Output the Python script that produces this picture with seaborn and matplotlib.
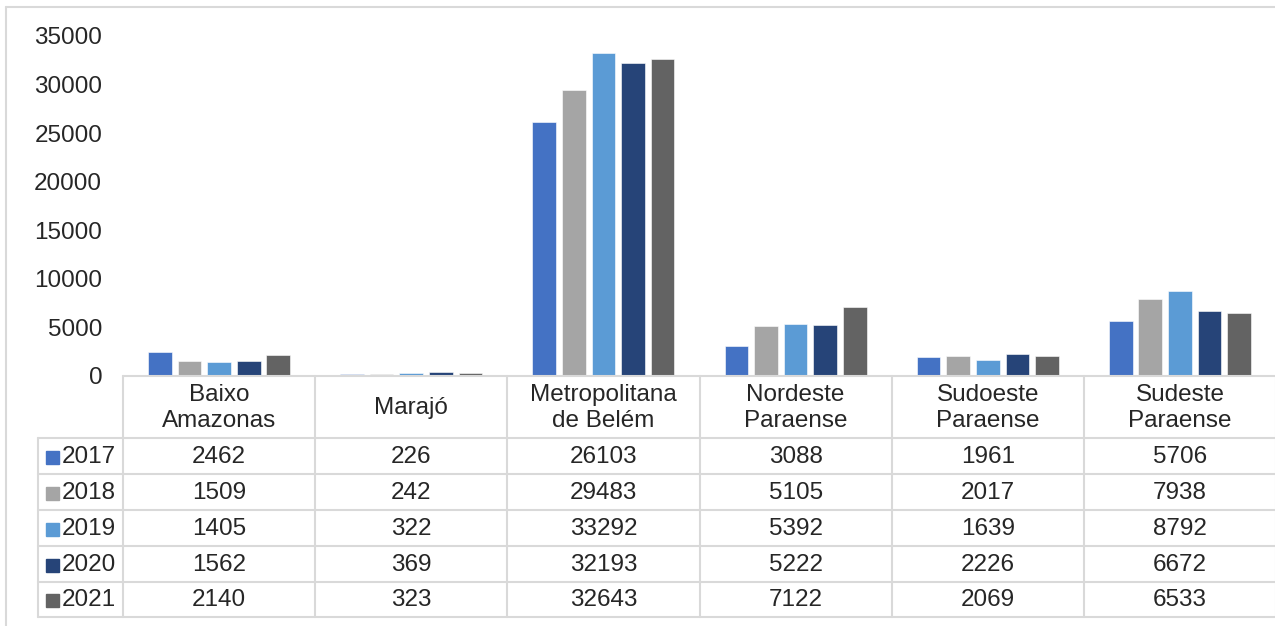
import matplotlib
matplotlib.use("Agg")
import matplotlib.pyplot as plt
import pandas as pd
import seaborn as sns
from matplotlib.lines import Line2D
from matplotlib.patches import Rectangle

regions = ["Baixo\nAmazonas", "Marajó", "Metropolitana\nde Belém",
           "Nordeste\nParaense", "Sudoeste\nParaense", "Sudeste\nParaense"]
years = ["2017", "2018", "2019", "2020", "2021"]
v2017 = [2462, 226, 26103, 3088, 1961, 5706]
v2018 = [1509, 242, 29483, 5105, 2017, 7938]
v2019 = [1405, 322, 33292, 5392, 1639, 8792]
v2020 = [1562, 369, 32193, 5222, 2226, 6672]
v2021 = [2140, 323, 32643, 7122, 2069, 6533]
colors = ["#4472C4", "#A5A5A5", "#5B9BD5", "#264478", "#636363"]
yticks = [0, 5000, 10000, 15000, 20000, 25000, 30000, 35000]

series = [v2017, v2018, v2019, v2020, v2021]
rows = []
for y, vals in zip(years, series):
    for r, v in zip(regions, vals):
        rows.append({"region": r, "year": y, "value": v})
df = pd.DataFrame(rows)

sns.set_style("white")
plt.rcParams["font.family"] = ["Liberation Sans", "DejaVu Sans"]
fs = 17.5

W, H = 1275, 626
fig = plt.figure(figsize=(W / 100, H / 100), dpi=100)


def fx(x):
    return x / W


def fy(y):
    return 1 - y / H


left, right, top, base = 123, 1276, 36, 376
ax = fig.add_axes([fx(left), fy(base), fx(right - left), (base - top) / H])
sns.barplot(data=df, x="region", y="value", hue="year", palette=colors,
            width=0.77, gap=0.2, ax=ax, legend=False, saturation=1,
            edgecolor="white", linewidth=0.4)
ax.set_xlim(-0.5, 5.5)
ax.set_ylim(0, 35000)
ax.set_yticks(yticks)
ax.set_yticklabels([str(t) for t in yticks], fontsize=fs)
ax.tick_params(axis="y", length=0, pad=15)
ax.set_xticks([])
ax.set_xlabel("")
ax.set_ylabel("")
for s in ax.spines.values():
    s.set_visible(False)

grid = "#D9D9D9"
lw = 1.5
col_w = (right - left) / 6
row_y = [438, 474, 510, 546, 582, 617]

# table borders
fig.add_artist(Line2D([fx(left), fx(right)], [fy(base), fy(base)], color=grid, lw=lw))
for y in row_y:
    fig.add_artist(Line2D([fx(38), fx(right)], [fy(y), fy(y)], color=grid, lw=lw))
for i in range(7):
    x = left + i * col_w
    fig.add_artist(Line2D([fx(x), fx(x)], [fy(base), fy(617)], color=grid, lw=lw))
fig.add_artist(Line2D([fx(38), fx(38)], [fy(438), fy(617)], color=grid, lw=lw))

# outer chart border
fig.add_artist(Line2D([fx(6), fx(W)], [fy(7), fy(7)], color=grid, lw=lw))
fig.add_artist(Line2D([fx(6), fx(6)], [fy(7), fy(H)], color=grid, lw=lw))

# header row
for i, r in enumerate(regions):
    cx = left + (i + 0.5) * col_w
    fig.text(fx(cx), fy(408), r, ha="center", va="center", fontsize=fs,
             multialignment="center", linespacing=1.2)

# data rows
for j, (y, vals) in enumerate(zip(years, series)):
    cy = (row_y[j] + row_y[j + 1]) / 2 + 1
    fig.add_artist(Rectangle((fx(46), fy(cy + 6.5)), fx(13), 13 / H,
                             color=colors[j], transform=fig.transFigure))
    fig.text(fx(62), fy(cy), y, ha="left", va="center", fontsize=fs)
    for i, v in enumerate(vals):
        cx = left + (i + 0.5) * col_w
        fig.text(fx(cx), fy(cy), str(v), ha="center", va="center", fontsize=fs)

fig.savefig("out.png", dpi=100)
